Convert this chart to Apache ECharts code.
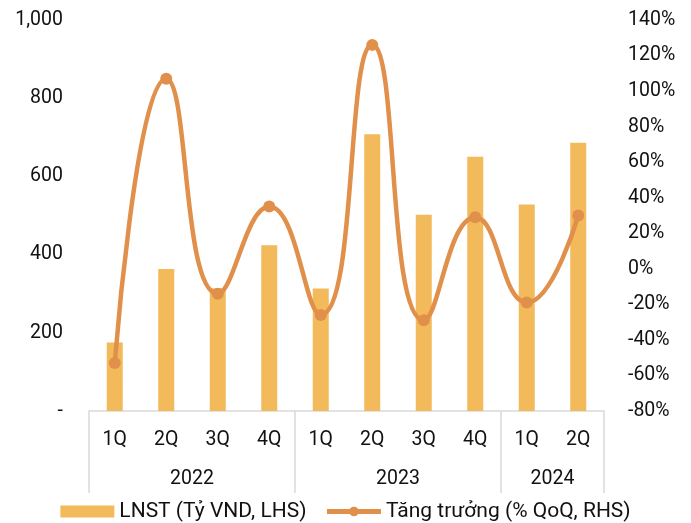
<!DOCTYPE html>
<html>
<head>
<meta charset="utf-8">
<script src="https://cdn.jsdelivr.net/npm/echarts@6/dist/echarts.min.js"></script>
<style>
  html, body { margin: 0; padding: 0; background: #fff; }
  #chart { width: 691px; height: 523px; }
</style>
</head>
<body>
<div id="chart"></div>
<script>
// Quarterly net profit (LNST, bn VND) and QoQ growth (%)
const quarters = ['1Q', '2Q', '3Q', '4Q', '1Q', '2Q', '3Q', '4Q', '1Q', '2Q'];
const years = ['2022', '2023', '2024'];
const yearSpans = [4, 4, 2];
const profit = [175, 363, 314, 424, 313, 708, 502, 650, 528, 686];
const growth = [-53, 107, -14, 35, -26, 126, -29, 29, -19, 30];

// Group boundaries and centers on a continuous [-0.5, n-0.5] scale
const bounds = [-0.5];
const centers = [];
yearSpans.forEach(function (s) {
  const start = bounds[bounds.length - 1];
  centers.push(start + s / 2);
  bounds.push(start + s);
});

const FONT = 'Roboto';
const TEXT = '#111';
const GRID_LINE = '#d9d9d9';
const AXIS_FS = 19.5;

const chart = echarts.init(document.getElementById('chart'), null, { renderer: 'canvas' });
chart.setOption({
  animation: false,
  textStyle: { fontFamily: FONT },
  grid: { left: 89, right: 87, top: 20, bottom: 112, containLabel: false },
  legend: {
    top: 496,
    left: 'center',
    itemWidth: 54,
    itemHeight: 12,
    itemGap: 18,
    textStyle: { fontFamily: FONT, fontSize: 21, color: TEXT },
    data: [
      { name: 'LNST (Tỷ VND, LHS)', icon: 'rect' },
      { name: 'Tăng trưởng (% QoQ, RHS)', lineStyle: { width: 5 } }
    ]
  },
  xAxis: [
    {
      type: 'category',
      data: quarters,
      position: 'bottom',
      axisLine: { show: true, lineStyle: { color: GRID_LINE, width: 1.5 } },
      axisTick: { show: false },
      axisLabel: { margin: 19, fontSize: AXIS_FS, color: TEXT, fontFamily: FONT }
    },
    {
      type: 'value',
      min: -0.5,
      max: quarters.length - 0.5,
      position: 'bottom',
      splitLine: { show: false },
      axisLine: { show: false, onZero: false },
      axisTick: {
        show: true,
        length: 82,
        customValues: bounds,
        lineStyle: { color: GRID_LINE, width: 1.5 }
      },
      axisLabel: {
        margin: 58,
        fontSize: AXIS_FS,
        color: TEXT,
        fontFamily: FONT,
        customValues: centers,
        formatter: function (v) {
          const i = centers.indexOf(v);
          return i >= 0 ? years[i] : '';
        }
      }
    }
  ],
  yAxis: [
    {
      type: 'value',
      min: 0,
      max: 1000,
      interval: 200,
      splitLine: { show: false },
      axisLine: { show: false },
      axisTick: { show: false },
      axisLabel: {
        margin: 26,
        fontSize: AXIS_FS,
        color: TEXT,
        fontFamily: FONT,
        formatter: function (v) { return v === 0 ? '-' : v.toLocaleString('en-US'); }
      }
    },
    {
      type: 'value',
      min: -80,
      max: 140,
      interval: 20,
      position: 'right',
      splitLine: { show: false },
      axisLine: { show: false },
      axisTick: { show: false },
      axisLabel: {
        margin: 24,
        fontSize: AXIS_FS,
        color: TEXT,
        fontFamily: FONT,
        formatter: function (v) { return v + '%'; }
      }
    }
  ],
  series: [
    {
      name: 'LNST (Tỷ VND, LHS)',
      type: 'bar',
      xAxisIndex: 0,
      yAxisIndex: 0,
      data: profit,
      barWidth: 16,
      itemStyle: { color: '#F2BA5A' }
    },
    {
      name: 'Tăng trưởng (% QoQ, RHS)',
      type: 'line',
      xAxisIndex: 0,
      yAxisIndex: 1,
      data: growth,
      smooth: 0.5,
      symbol: 'circle',
      symbolSize: 12,
      lineStyle: { color: '#E0904A', width: 4.5 },
      itemStyle: { color: '#E0904A' }
    }
  ]
});
</script>
</body>
</html>
